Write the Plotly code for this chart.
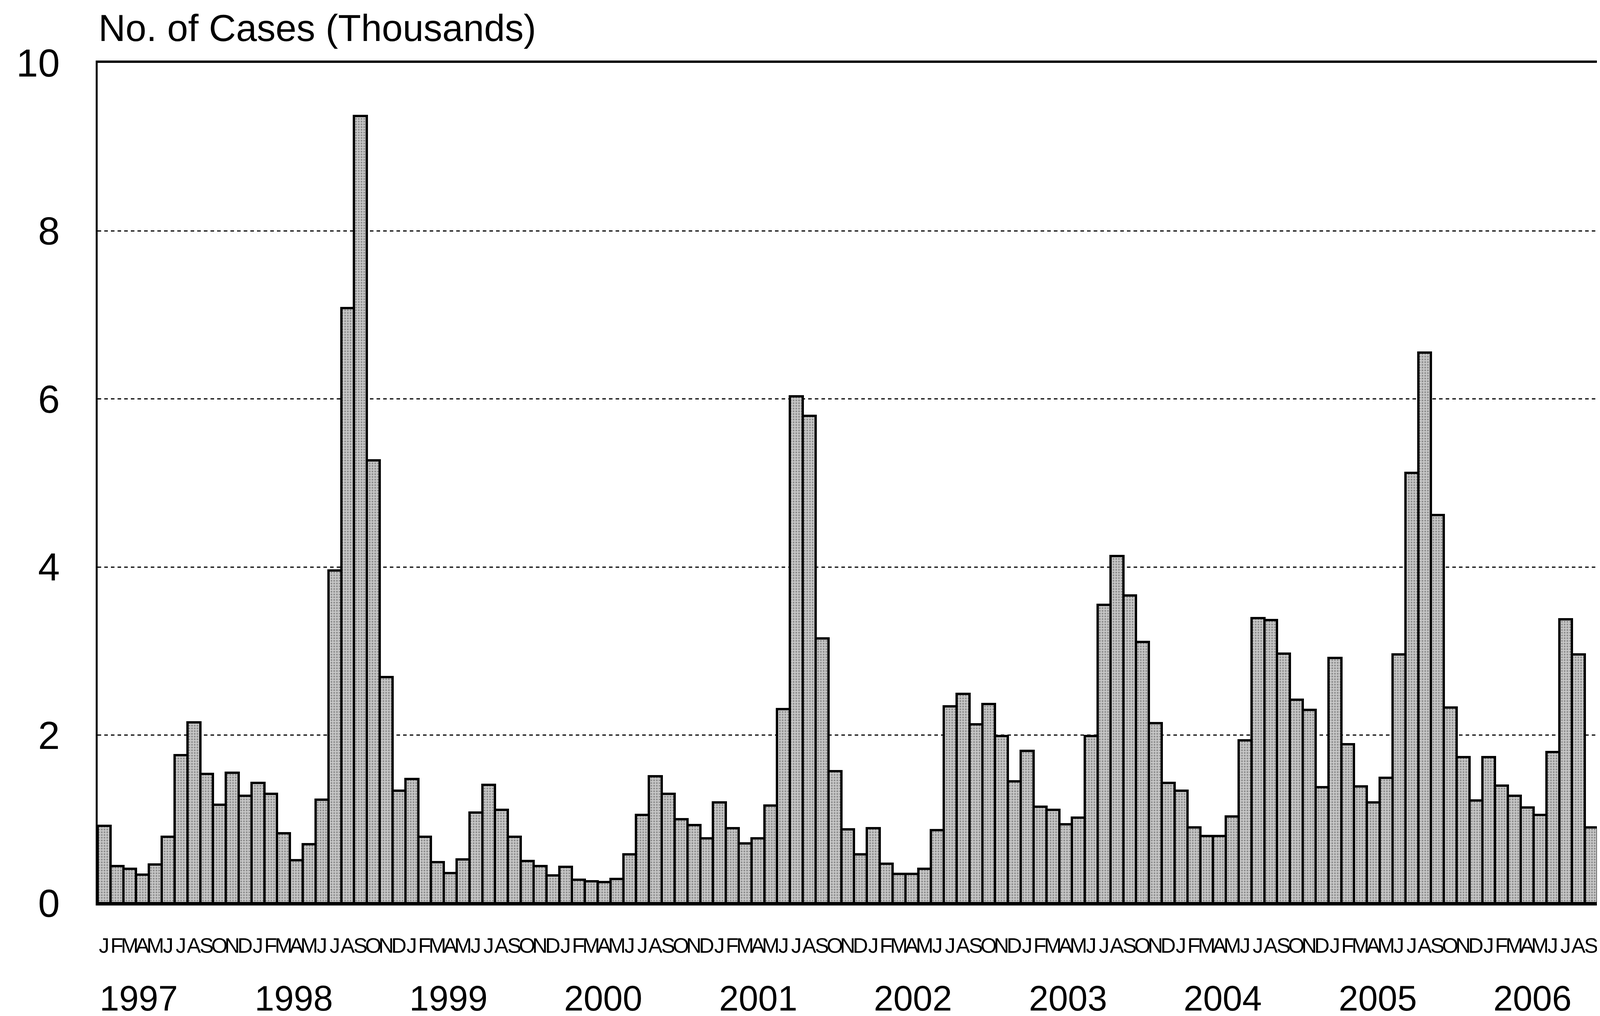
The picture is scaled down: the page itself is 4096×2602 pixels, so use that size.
import plotly.graph_objects as go

years = ["1997", "1998", "1999", "2000", "2001", "2002", "2003", "2004", "2005", "2006"]
month_letters = ["J", "F", "M", "A", "M", "J", "J", "A", "S", "O", "N", "D"]

cases_1997 = [0.92, 0.44, 0.41, 0.34, 0.46, 0.79, 1.76, 2.15, 1.54, 1.17, 1.55, 1.28]
cases_1998 = [1.43, 1.30, 0.83, 0.51, 0.70, 1.23, 3.96, 7.08, 9.37, 5.27, 2.69, 1.34]
cases_1999 = [1.48, 0.79, 0.49, 0.36, 0.52, 1.08, 1.41, 1.11, 0.79, 0.50, 0.44, 0.33]
cases_2000 = [0.43, 0.28, 0.26, 0.25, 0.29, 0.58, 1.05, 1.51, 1.30, 1.00, 0.93, 0.77]
cases_2001 = [1.20, 0.89, 0.71, 0.77, 1.16, 2.31, 6.03, 5.80, 3.15, 1.57, 0.88, 0.58]
cases_2002 = [0.89, 0.47, 0.35, 0.35, 0.41, 0.87, 2.34, 2.49, 2.13, 2.37, 1.99, 1.45]
cases_2003 = [1.81, 1.15, 1.11, 0.94, 1.02, 1.99, 3.55, 4.13, 3.66, 3.11, 2.14, 1.43]
cases_2004 = [1.34, 0.90, 0.80, 0.80, 1.03, 1.94, 3.39, 3.37, 2.97, 2.42, 2.30, 1.38]
cases_2005 = [2.92, 1.89, 1.39, 1.20, 1.49, 2.96, 5.12, 6.55, 4.62, 2.33, 1.74, 1.22]
cases_2006 = [1.74, 1.40, 1.28, 1.14, 1.05, 1.80, 3.38, 2.96, 0.90]

y_ticks = [0, 2, 4, 6, 8, 10]

series = (cases_1997 + cases_1998 + cases_1999 + cases_2000 + cases_2001 +
          cases_2002 + cases_2003 + cases_2004 + cases_2005 + cases_2006)
x_idx = list(range(len(series)))
month_text = [month_letters[i % 12] for i in x_idx]

FONT = "Liberation Sans, Arial, sans-serif"
PLOT_TOP, PLOT_BOTTOM = 153, 2305
PLOT_H = PLOT_BOTTOM - PLOT_TOP

fig = go.Figure()
fig.add_trace(go.Bar(
    x=x_idx, y=series, width=1.0,
    marker=dict(
        color="#bdbdbd",
        line=dict(color="black", width=6),
        pattern=dict(shape=".", fgcolor="#4a4a4a", bgcolor="#c6c6c6", size=7, solidity=0.3),
    ),
    showlegend=False,
))

# year labels centred under each year's block of months
for k, yr in enumerate(years):
    fig.add_annotation(
        x=k * 12 + 2.7 + 0.08 * k, y=-(2549 - PLOT_BOTTOM) / PLOT_H,
        xref="x", yref="paper",
        text=yr, showarrow=False, xanchor="center", yanchor="middle",
        font=dict(family=FONT, size=90, color="black"),
    )

fig.add_annotation(
    x=0.0, y=1 + (PLOT_TOP - 64) / PLOT_H, xref="paper", yref="paper",
    text="No. of Cases (Thousands)", showarrow=False,
    xanchor="left", yanchor="middle",
    font=dict(family=FONT, size=96, color="black"),
)

fig.update_layout(
    width=4096, height=2602,
    margin=dict(l=242, r=9, t=PLOT_TOP, b=2602 - PLOT_BOTTOM),
    paper_bgcolor="white", plot_bgcolor="white",
    bargap=0,
    font=dict(family=FONT, color="black"),
    xaxis=dict(
        range=[-0.5, len(series) - 0.5],
        tickmode="array", tickvals=x_idx, ticktext=month_text,
        tickangle=0,
        tickfont=dict(family=FONT, size=54, color="black"),
        ticks="outside", ticklen=56, tickcolor="rgba(0,0,0,0)",
        showline=True, linecolor="black", linewidth=6, mirror=True,
        showgrid=False, zeroline=False,
    ),
    yaxis=dict(
        range=[0, 10],
        tickmode="array", tickvals=y_ticks, ticktext=[str(v) for v in y_ticks],
        tickfont=dict(family=FONT, size=100, color="black"),
        ticks="outside", ticklen=72, tickcolor="rgba(0,0,0,0)",
        showline=True, linecolor="black", linewidth=5, mirror=True,
        showgrid=True, gridcolor="black", gridwidth=3, griddash="9px,8px",
        zeroline=False,
    ),
)

fig.write_html("out.html")
